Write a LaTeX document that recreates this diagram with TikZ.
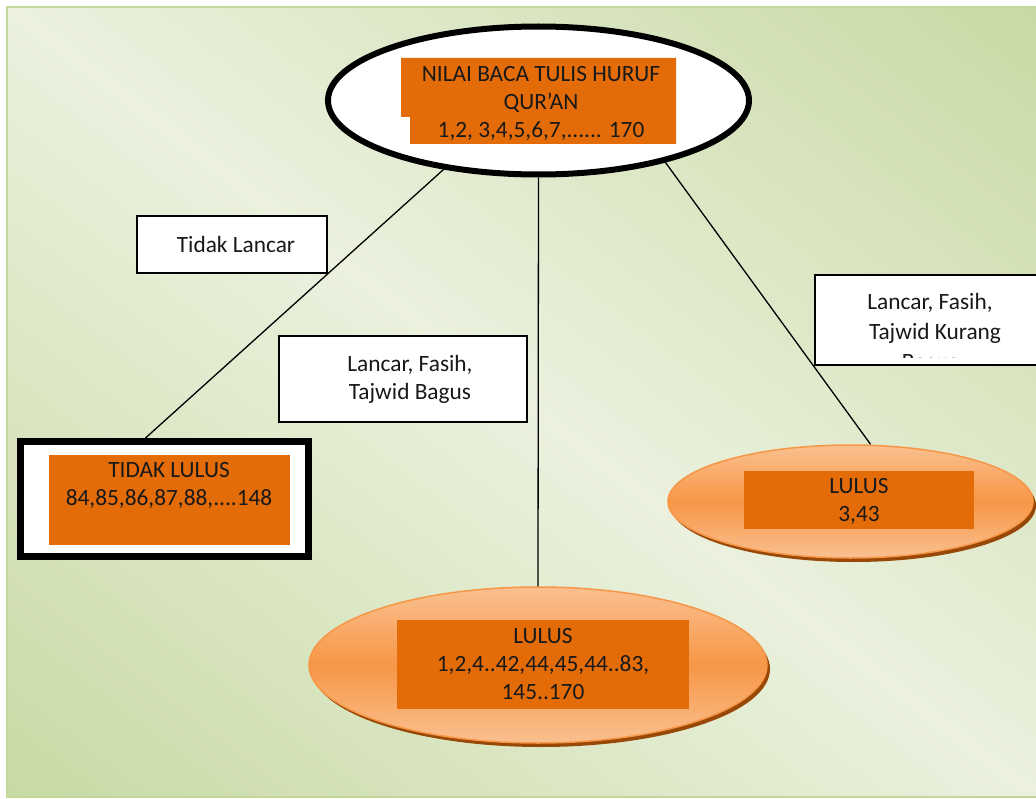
\documentclass[tikz,border=0pt]{standalone}
\usepackage{fontspec}
\setmainfont{Carlito}
\usetikzlibrary{shapes.geometric,calc,shadows}
\definecolor{orbox}{HTML}{E36C09}
\definecolor{orlight}{HTML}{FAC090}
\definecolor{ormid}{HTML}{F79646}
\definecolor{orshadow}{HTML}{984807}
\definecolor{bgdark}{HTML}{C3D69B}
\definecolor{bglight}{HTML}{EBF1DE}
\pgfdeclarehorizontalshading{bggrad}{100bp}{color(0bp)=(bgdark); color(10bp)=(bgdark); color(50bp)=(bglight); color(90bp)=(bgdark); color(100bp)=(bgdark)}
\newdimen\px \px=0.75pt
\begin{document}
\begin{tikzpicture}[x=0.75pt,y=-0.75pt,
  txt/.style={align=center, font=\fontsize{17.5}{21}\selectfont, text=black!90, inner sep=0},
  lbl/.style={draw=black, line width=1.5\px, fill=white, inner sep=0, align=center, font=\fontsize{17.5}{21}\selectfont, text=black!90},
  orrect/.style={fill=orbox, inner sep=0},
  topell/.style={ellipse, draw=black, line width=6\px, fill=white, inner sep=0},
  orell/.style={ellipse, draw=ormid, line width=1.5\px, top color=orlight, bottom color=orlight, middle color=ormid, inner sep=0,
     drop shadow={shadow xshift=3\px, shadow yshift=-4\px, fill=orshadow, opacity=1}},
  conn/.style={draw=black, line width=1.3\px}]
\useasboundingbox (0,0) rectangle (1036,799);
\shade[shading=bggrad, shading angle=52.5] (7,7) rectangle (1040,797);
\draw[bgdark, line width=1.5\px] (1040,7) -- (7,7) -- (7,797) -- (1040,797);

% top ellipse
\node[topell, minimum width=421\px, minimum height=148\px] (top) at (538.5,100.5) {};
\fill[orbox] (401,58) -- (676,58) -- (676,144) -- (410,144) -- (410,117) -- (401,117) -- cycle;
\node[txt] (toptext) at (541,103) {NILAI BACA TULIS HURUF\\QUR'AN\\1,2, 3,4,5,6,7,...... 170};

% tidak lulus box
\node[draw=black, line width=7\px, fill=white, minimum width=288\px, minimum height=115\px, inner sep=0] (tidak) at (164.5,499) {};
\node[orrect, minimum width=241\px, minimum height=90\px] (tidakfill) at (169.5,500) {};
\node[txt] (tidaktext) at (169,485) {TIDAK LULUS\\84,85,86,87,88,....148};

% right ellipse
\node[orell, minimum width=365\px, minimum height=113\px] (lulus1) at (850.5,501.5) {};
\node[orrect, minimum width=230\px, minimum height=58\px] (lulus1fill) at (859,500) {};
\node[txt] (lulus1text) at (859,501) {LULUS\\3,43};

% bottom ellipse
\node[orell, minimum width=458\px, minimum height=156\px] (lulus2) at (538,665) {};
\node[orrect, minimum width=292\px, minimum height=89\px] (lulus2fill) at (543,664.5) {};
\node[txt] (lulus2text) at (543,664.5) {LULUS\\1,2,4..42,44,45,44..83,\\145..170};

% connectors
\draw[conn] (top.216) -- ([shift={(-19,0)}]tidak.north);
\draw[conn] (top.south) -- (lulus2.north);
\draw[conn] (top.334) -- ([shift={(20,0)}]lulus1.north);

% labels
\node[lbl, minimum width=190\px, minimum height=57\px] (lab1) at (232,244.5) {\hspace*{8\px}Tidak Lancar};
\node[lbl, minimum width=248\px, minimum height=86\px] (lab2) at (403,379) {\hspace*{14\px}Lancar, Fasih,\\\hspace*{14\px}Tajwid Bagus};
\node[lbl, minimum width=225\px, minimum height=90\px] (lab3) at (927.5,320) {};
\begin{scope}
\clip (816,276) rectangle (1036,357);
\node[txt, font=\fontsize{17.5}{22.5}\selectfont] (lab3text) at (930,333) {Lancar, Fasih,\\\hspace*{10\px}Tajwid Kurang\\Bagus};
\end{scope}
\end{tikzpicture}
\end{document}
